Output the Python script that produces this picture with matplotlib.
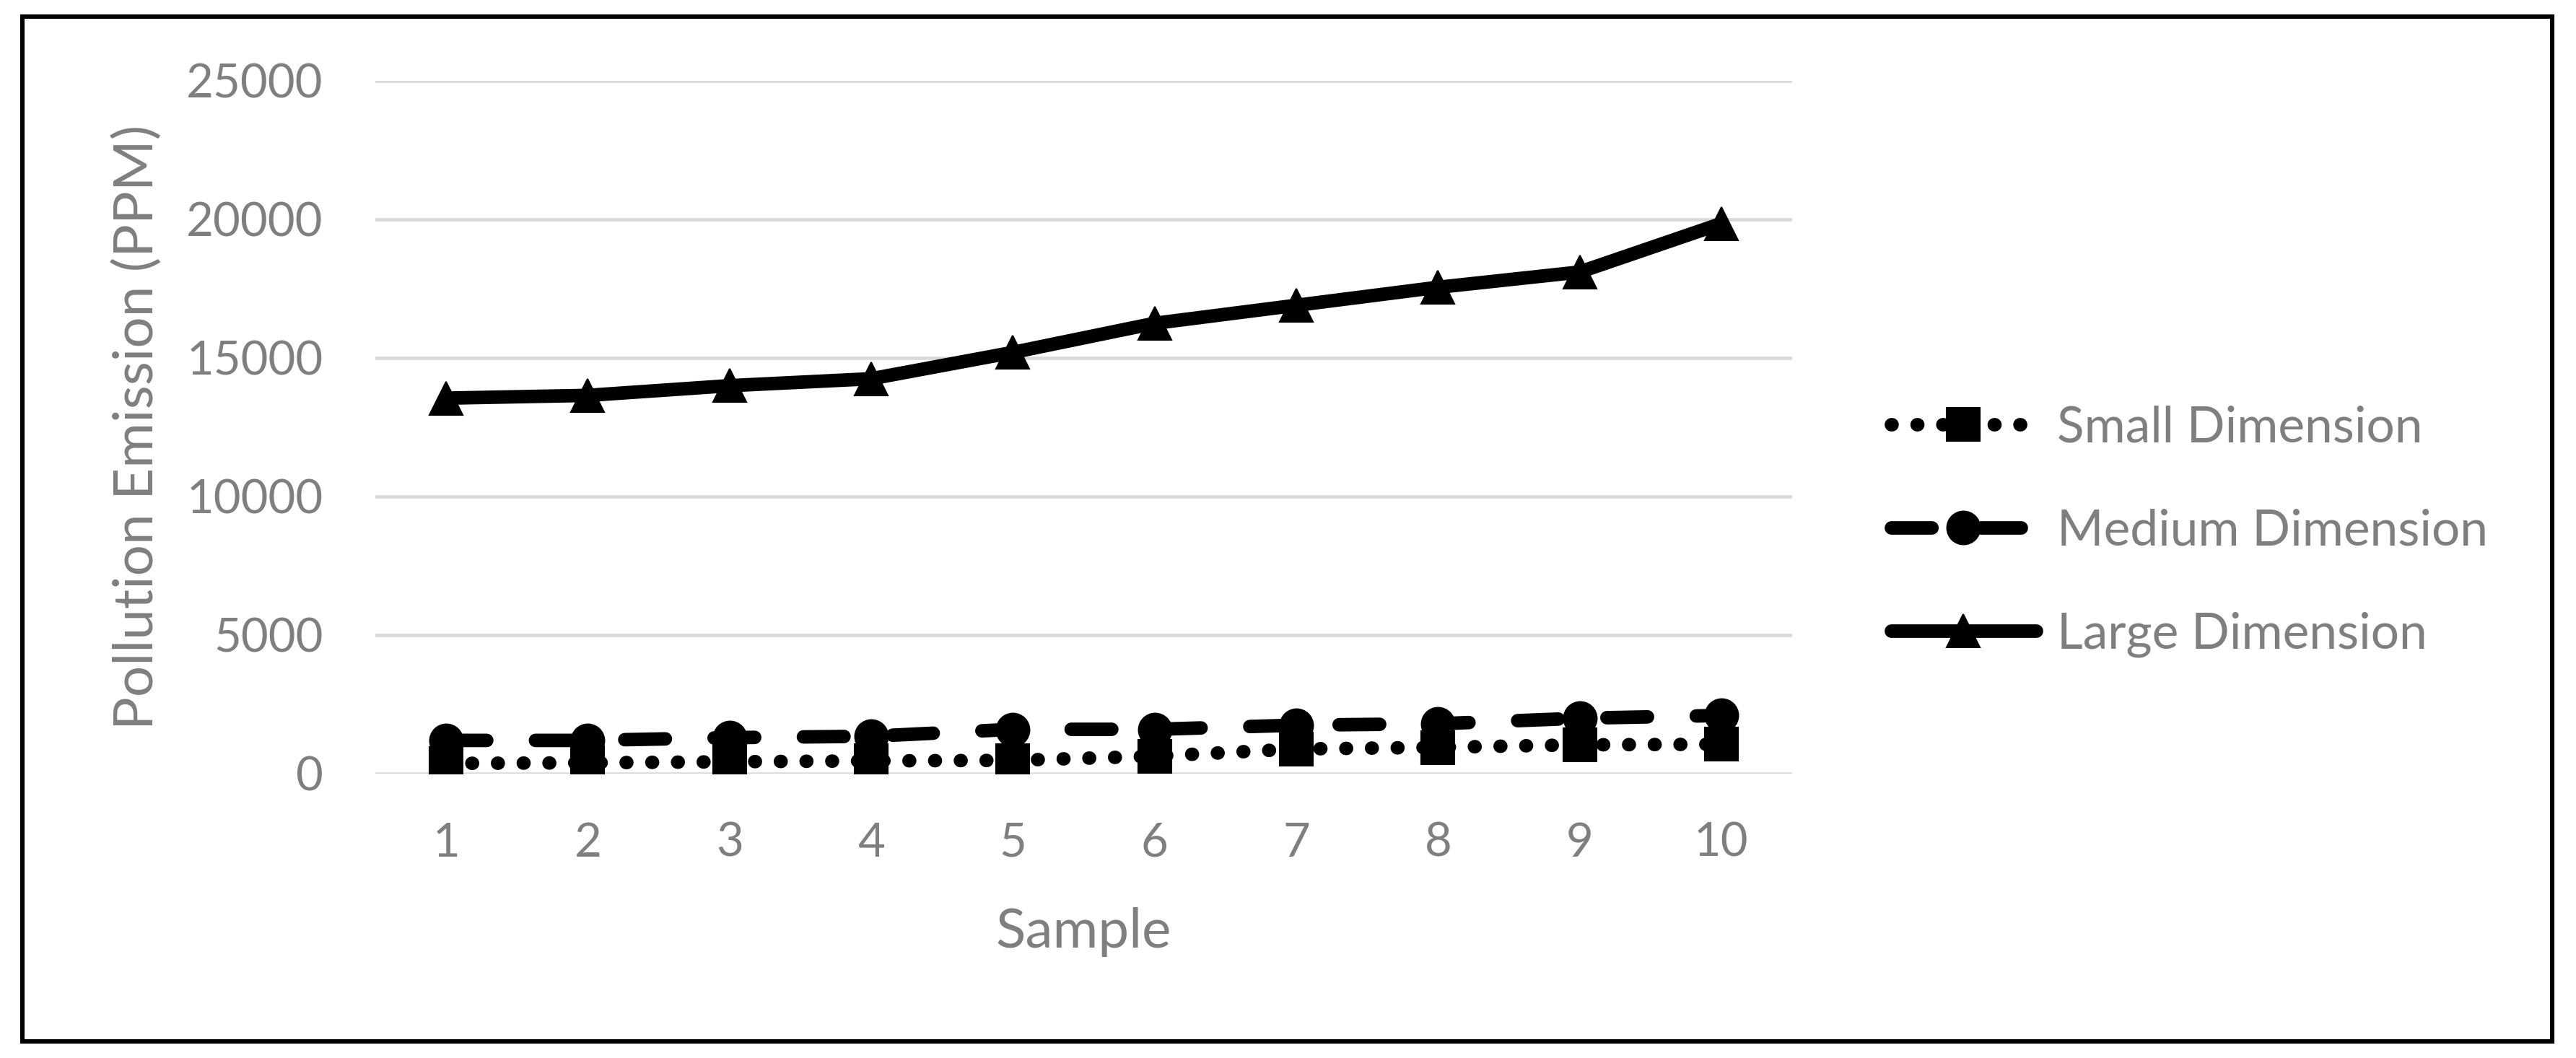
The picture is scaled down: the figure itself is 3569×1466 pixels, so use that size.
import matplotlib.pyplot as plt
from matplotlib.patches import Rectangle

samples = [1, 2, 3, 4, 5, 6, 7, 8, 9, 10]
small_dim = [370, 390, 430, 460, 480, 630, 890, 950, 1040, 1060]
medium_dim = [1200, 1200, 1300, 1350, 1600, 1600, 1750, 1800, 2000, 2100]
large_dim = [13550, 13650, 14000, 14250, 15200, 16250, 16900, 17550, 18100, 19850]
y_ticks = [0, 5000, 10000, 15000, 20000, 25000]

grey = '#7f7f7f'
plt.rcParams['font.family'] = ['Lato', 'DejaVu Sans']

W, H = 3569, 1466
fig = plt.figure(figsize=(W / 100, H / 100), dpi=100)
ax = fig.add_axes([520 / W, 1 - 1072 / H, (2483 - 520) / W, (1072 - 112) / H])

lw = 13.5
ax.plot(samples, small_dim, color='black', lw=lw, dashes=(0.05, 1.85),
        dash_capstyle='round', marker='s', ms=33, mew=1.5, label='Small Dimension')
ax.plot(samples, medium_dim, color='black', lw=lw, dashes=(3.0, 3.6),
        dash_capstyle='round', marker='o', ms=33, mew=1.5, label='Medium Dimension')
ax.plot(samples, large_dim, color='black', lw=lw, solid_capstyle='round',
        solid_joinstyle='round', marker='^', ms=33, mew=1.5, label='Large Dimension')

ax.set_xlim(0.5, 10.5)
ax.set_ylim(0, 25000)
ax.set_xticks(samples)
ax.set_yticks(y_ticks)
ax.grid(axis='y', color='#d9d9d9', lw=3.3)
ax.set_axisbelow(True)
for s in ax.spines.values():
    s.set_visible(False)
ax.tick_params(length=0, labelsize=47, labelcolor=grey)
ax.tick_params(axis='x', pad=48)
ax.tick_params(axis='y', pad=52)

ax.set_xlabel('Sample', fontsize=55, color=grey, va='center')
ax.xaxis.set_label_coords(0.5, (1072 - 1292) / 960)
ax.set_ylabel('Pollution Emission (PPM)', fontsize=55, color=grey, va='center')
ax.yaxis.set_label_coords((190 - 520) / 1963, 0.5)

ax.legend(loc='center left', bbox_to_anchor=(2585 / W, 1 - 736 / H),
          bbox_transform=fig.transFigure, frameon=False, fontsize=50,
          labelcolor=grey, handlelength=2.9, handletextpad=0.42,
          labelspacing=1.15, borderpad=0, numpoints=1)

fig.patches.append(Rectangle((30.5 / W, 1 - 1442.5 / H), (3536 - 30.5) / W,
                             (1442.5 - 22.5) / H, transform=fig.transFigure,
                             fill=False, edgecolor='black', lw=4.4))

fig.savefig('out.png', dpi=100)
